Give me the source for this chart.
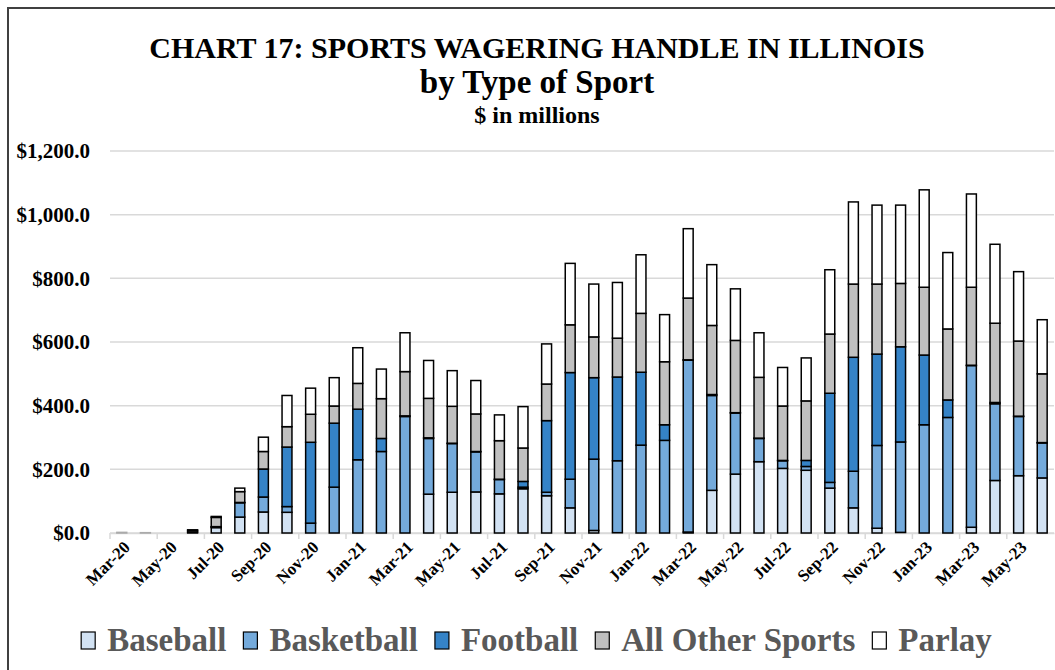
<!DOCTYPE html>
<html>
<head>
<meta charset="utf-8">
<script src="https://cdn.jsdelivr.net/npm/d3@7"></script>
<style>
	body { margin: 0; background: #fff; }
	#chart { width: 1055px; height: 670px; }
	text { font-family: "Liberation Serif", "DejaVu Serif", serif; font-weight: bold; }
</style>
</head>
<body>
<div id="chart"></div>
<script>
// months on the x axis
const months = [
	"Mar-20", "Apr-20", "May-20", "Jun-20", "Jul-20", "Aug-20", "Sep-20", "Oct-20", "Nov-20", "Dec-20",
	"Jan-21", "Feb-21", "Mar-21", "Apr-21", "May-21", "Jun-21", "Jul-21", "Aug-21", "Sep-21", "Oct-21", "Nov-21", "Dec-21",
	"Jan-22", "Feb-22", "Mar-22", "Apr-22", "May-22", "Jun-22", "Jul-22", "Aug-22", "Sep-22", "Oct-22", "Nov-22", "Dec-22",
	"Jan-23", "Feb-23", "Mar-23", "Apr-23", "May-23", "Jun-23",
];
// handle by sport, $ millions
const baseball = [0, 0, 0, 0, 17, 50, 66, 65, 0, 0, 0, 0, 0, 122, 128, 129, 123, 139, 117, 79, 8, 1, 0, 0, 3, 134, 185, 224, 203, 197, 141, 79, 15, 2, 0, 0, 18, 165, 180, 173];
const basketball = [0, 0, 0, 3, 2, 45, 47, 18, 31, 144, 230, 256, 366, 175, 153, 126, 45, 5, 11, 90, 224, 226, 276, 291, 540, 298, 192, 73, 24, 12, 18, 115, 260, 284, 340, 363, 508, 241, 186, 110];
const football = [0, 0, 0, 0, 1, 1, 88, 187, 254, 201, 159, 41, 2, 2, 1, 1, 1, 18, 225, 335, 256, 263, 229, 49, 1, 3, 1, 1, 1, 19, 280, 358, 287, 299, 219, 55, 1, 4, 1, 1];
const otherSports = [2, 1, 0, 5, 29, 34, 55, 64, 88, 54, 81, 125, 139, 124, 116, 118, 121, 105, 115, 150, 128, 122, 185, 198, 194, 217, 227, 191, 171, 187, 186, 230, 220, 199, 213, 223, 245, 249, 236, 216];
const parlay = [0, 0, 0, 2, 3, 11, 45, 98, 82, 89, 112, 93, 122, 119, 112, 105, 81, 130, 126, 193, 166, 175, 184, 148, 218, 191, 162, 140, 121, 135, 202, 258, 248, 246, 306, 240, 293, 248, 218, 170];
const seriesNames = ["Baseball", "Basketball", "Football", "All Other Sports", "Parlay"];
const yTicks = [0, 200, 400, 600, 800, 1000, 1200];

const colors = ["#d2e2f3", "#74aadb", "#3583c7", "#c0c0c0", "#ffffff"];

const width = 1055;
const height = 670;
const margin = { top: 151, right: 1, bottom: 137, left: 110 };

const svg = d3
	.select("#chart")
	.append("svg")
	.attr("width", width)
	.attr("height", height);

// outer frame (only left and top edges show inside the window)
svg.append("rect")
	.attr("x", 8)
	.attr("y", 8)
	.attr("width", width + 20)
	.attr("height", height + 20)
	.attr("fill", "none")
	.attr("stroke", "#404040")
	.attr("stroke-width", 2);

// titles
const titles = [
	{ text: "CHART 17: SPORTS WAGERING HANDLE IN ILLINOIS", y: 58, size: 30 },
	{ text: "by Type of Sport", y: 93, size: 33 },
	{ text: "$ in millions", y: 123, size: 24 },
];
titles.forEach((t) => {
	svg.append("text")
		.attr("x", 537)
		.attr("y", t.y)
		.attr("text-anchor", "middle")
		.attr("font-size", t.size)
		.attr("fill", "#000")
		.text(t.text);
});

// build stacked table
const table = months.map((m, i) => ({
	month: m,
	"Baseball": baseball[i],
	"Basketball": basketball[i],
	"Football": football[i],
	"All Other Sports": otherSports[i],
	"Parlay": parlay[i],
}));
const stacked = d3.stack().keys(seriesNames)(table);

// scales
const xScale = d3
	.scaleBand()
	.domain(months)
	.range([margin.left, width - margin.right])
	.paddingInner(0.58)
	.paddingOuter(0.29);

const yScale = d3
	.scaleLinear()
	.domain([0, 1200])
	.range([height - margin.bottom, margin.top]);

// grid lines
yTicks.forEach((v) => {
	svg.append("line")
		.attr("x1", margin.left)
		.attr("x2", width - margin.right)
		.attr("y1", yScale(v))
		.attr("y2", yScale(v))
		.attr("stroke", "#d9d9d9")
		.attr("stroke-width", 1.5);
});

// y axis labels
const yAxis = d3
	.axisLeft(yScale)
	.tickValues(yTicks)
	.tickSize(0)
	.tickPadding(20)
	.tickFormat((d) => "$" + d3.format(",.1f")(d));
const yG = svg.append("g")
	.attr("transform", `translate(${margin.left}, 0)`)
	.call(yAxis);
yG.select(".domain").remove();
yG.selectAll("text")
	.attr("font-size", 21)
	.attr("font-family", "Liberation Serif")
	.attr("font-weight", "bold")
	.attr("fill", "#000");

// x axis, ticks between every second month
const step = xScale.step();
const xAxis = d3
	.axisBottom(xScale)
	.tickSize(0)
	.tickValues(months.filter((d, i) => i % 2 === 0));
const xG = svg.append("g")
	.attr("transform", `translate(0, ${yScale(0)})`)
	.call(xAxis);
xG.select(".domain")
	.attr("stroke", "#d9d9d9")
	.attr("stroke-width", 1.5);
xG.selectAll("text")
	.attr("font-size", 17)
	.attr("font-family", "Liberation Serif")
	.attr("font-weight", "bold")
	.attr("fill", "#000")
	.attr("text-anchor", "end")
	.attr("dy", 0)
	.attr("transform", "translate(7, 13) rotate(-45)");

months.forEach((m, i) => {
	if (i % 2 !== 0) return;
	const x = xScale(m) - xScale.paddingOuter() * step;
	svg.append("line")
		.attr("x1", x)
		.attr("x2", x)
		.attr("y1", yScale(0))
		.attr("y2", yScale(0) + 6)
		.attr("stroke", "#d9d9d9")
		.attr("stroke-width", 1.5);
});

// stacked bars
svg.selectAll("g.series")
	.data(stacked)
	.enter()
	.append("g")
	.attr("class", "series")
	.attr("fill", (d, i) => colors[i])
	.selectAll("rect")
	.data((d) => d.filter((s) => s[1] - s[0] > 0))
	.enter()
	.append("rect")
	.attr("x", (d) => xScale(d.data.month))
	.attr("y", (d) => yScale(d[1]))
	.attr("width", xScale.bandwidth())
	.attr("height", (d) => yScale(d[0]) - yScale(d[1]))
	.attr("stroke", (d) => (d[1] < 3 ? "#aaa" : "#000"))
	.attr("stroke-width", 1.5);

// legend
const legend = svg.append("g");
let lx = 0;
seriesNames.forEach((name, i) => {
	legend.append("rect")
		.attr("x", lx)
		.attr("y", 632)
		.attr("width", 14)
		.attr("height", 17)
		.attr("fill", colors[i])
		.attr("stroke", "#000")
		.attr("stroke-width", 1.2);
	const t = legend.append("text")
		.attr("x", lx + 26)
		.attr("y", 651)
		.attr("font-size", 33)
		.attr("fill", "#595959")
		.text(name);
	lx += 26 + t.node().getComputedTextLength() + 17;
});
legend.attr("transform", `translate(${(76 + 997) / 2 - (lx - 17) / 2}, 0)`);
</script>
</body>
</html>
